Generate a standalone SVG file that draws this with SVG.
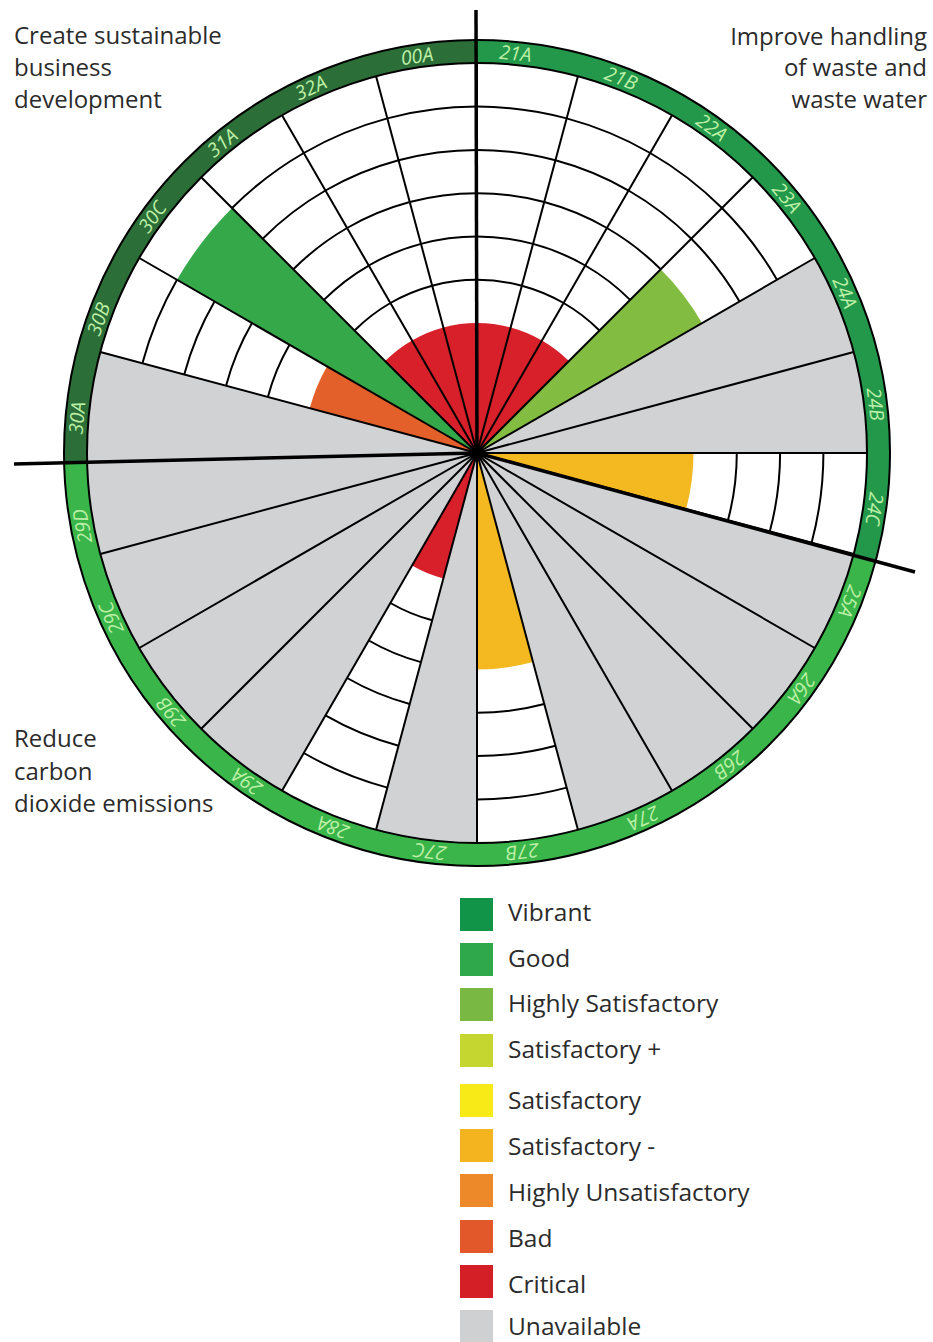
<svg xmlns="http://www.w3.org/2000/svg" xmlns:xlink="http://www.w3.org/1999/xlink" width="933" height="1342" viewBox="0 0 933 1342">
<style>
.red{fill:#d7202a}.good{fill:#35a94a}.hs{fill:#82bc40}.bad{fill:#e4602a}.satm{fill:#f4b821}.gray{fill:#d1d2d4}
.grid{fill:none;stroke:#000;stroke-width:2}
.ray{stroke:#000;stroke-width:2}
.edge{fill:none;stroke:#000;stroke-width:2}
.lab{font-family:"Open Sans","Liberation Sans",sans-serif;font-style:italic;font-size:19.5px;fill:#bdf0a6;text-anchor:middle}
.title{font-family:"Open Sans","Liberation Sans",sans-serif;font-size:24px;fill:#2b2b2b}
.leg{font-family:"Open Sans","Liberation Sans",sans-serif;font-size:24.5px;fill:#2b2b2b}
.sep{stroke:#000;stroke-width:3.5;fill:none}
</style>
<defs>
<path id="w130" d="M0,0 L0,-130 A130,130 0 0 1 33.65,-125.57 Z"/>
<path id="w173" d="M0,0 L0,-173.2 A173.2,173.2 0 0 1 44.83,-167.30 Z"/>
<path id="w216" d="M0,0 L0,-216.5 A216.5,216.5 0 0 1 56.03,-209.12 Z"/>
<path id="w260" d="M0,0 L0,-259.8 A259.8,259.8 0 0 1 67.24,-250.95 Z"/>
<path id="w346" d="M0,0 L0,-346.4 A346.4,346.4 0 0 1 89.66,-334.60 Z"/>
<path id="w390" d="M0,0 L0,-390 A390,390 0 0 1 100.94,-376.71 Z"/>
<path id="a173" class="grid" d="M0,-173.2 A173.2,173.2 0 0 1 44.83,-167.30"/>
<path id="a216" class="grid" d="M0,-216.5 A216.5,216.5 0 0 1 56.03,-209.12"/>
<path id="a260" class="grid" d="M0,-259.8 A259.8,259.8 0 0 1 67.24,-250.95"/>
<path id="a303" class="grid" d="M0,-303.1 A303.1,303.1 0 0 1 78.45,-292.77"/>
<path id="a346" class="grid" d="M0,-346.4 A346.4,346.4 0 0 1 89.66,-334.60"/>
<g id="arcs7"><use xlink:href="#a303"/><use xlink:href="#a346"/></g>
<g id="arcs6"><use xlink:href="#a260"/><use xlink:href="#arcs7"/></g>
<g id="arcs5"><use xlink:href="#a216"/><use xlink:href="#arcs6"/></g>
<g id="arcs4"><use xlink:href="#a173"/><use xlink:href="#arcs5"/></g>
<line id="ray" class="ray" x1="0" y1="0" x2="0" y2="-390"/>
</defs>
<rect x="0" y="0" width="933" height="1342" fill="#fff"/>

<g id="chart" transform="translate(477,453)">
  <g id="s-21A" transform="rotate(0)"><use xlink:href="#w130" class="red"/><use xlink:href="#arcs4"/></g>
  <g id="s-21B" transform="rotate(15)"><use xlink:href="#w130" class="red"/><use xlink:href="#arcs4"/></g>
  <g id="s-22A" transform="rotate(30)"><use xlink:href="#w130" class="red"/><use xlink:href="#arcs4"/></g>
  <g id="s-23A" transform="rotate(45)"><use xlink:href="#w260" class="hs"/><use xlink:href="#arcs7"/></g>
  <g id="s-24A" transform="rotate(60)"><use xlink:href="#w390" class="gray"/></g>
  <g id="s-24B" transform="rotate(75)"><use xlink:href="#w390" class="gray"/></g>
  <g id="s-24C" transform="rotate(90)"><use xlink:href="#w216" class="satm"/><use xlink:href="#arcs6"/></g>
  <g id="s-25A" transform="rotate(105)"><use xlink:href="#w390" class="gray"/></g>
  <g id="s-26A" transform="rotate(120)"><use xlink:href="#w390" class="gray"/></g>
  <g id="s-26B" transform="rotate(135)"><use xlink:href="#w390" class="gray"/></g>
  <g id="s-27A" transform="rotate(150)"><use xlink:href="#w390" class="gray"/></g>
  <g id="s-27B" transform="rotate(165)"><use xlink:href="#w216" class="satm"/><use xlink:href="#arcs6"/></g>
  <g id="s-27C" transform="rotate(180)"><use xlink:href="#w390" class="gray"/></g>
  <g id="s-28A" transform="rotate(195)"><use xlink:href="#w130" class="red"/><use xlink:href="#arcs4"/></g>
  <g id="s-29A" transform="rotate(210)"><use xlink:href="#w390" class="gray"/></g>
  <g id="s-29B" transform="rotate(225)"><use xlink:href="#w390" class="gray"/></g>
  <g id="s-29C" transform="rotate(240)"><use xlink:href="#w390" class="gray"/></g>
  <g id="s-29D" transform="rotate(255)"><use xlink:href="#w390" class="gray"/></g>
  <g id="s-30A" transform="rotate(270)"><use xlink:href="#w390" class="gray"/></g>
  <g id="s-30B" transform="rotate(285)"><use xlink:href="#w173" class="bad"/><use xlink:href="#arcs5"/></g>
  <g id="s-30C" transform="rotate(300)"><use xlink:href="#w346" class="good"/></g>
  <g id="s-31A" transform="rotate(315)"><use xlink:href="#w130" class="red"/><use xlink:href="#arcs4"/></g>
  <g id="s-32A" transform="rotate(330)"><use xlink:href="#w130" class="red"/><use xlink:href="#arcs4"/></g>
  <g id="s-00A" transform="rotate(345)"><use xlink:href="#w130" class="red"/><use xlink:href="#arcs4"/></g>

  <g id="radials">
    <use xlink:href="#ray" transform="rotate(0)"/><use xlink:href="#ray" transform="rotate(15)"/>
    <use xlink:href="#ray" transform="rotate(30)"/><use xlink:href="#ray" transform="rotate(45)"/>
    <use xlink:href="#ray" transform="rotate(60)"/><use xlink:href="#ray" transform="rotate(75)"/>
    <use xlink:href="#ray" transform="rotate(90)"/><use xlink:href="#ray" transform="rotate(105)"/>
    <use xlink:href="#ray" transform="rotate(120)"/><use xlink:href="#ray" transform="rotate(135)"/>
    <use xlink:href="#ray" transform="rotate(150)"/><use xlink:href="#ray" transform="rotate(165)"/>
    <use xlink:href="#ray" transform="rotate(180)"/><use xlink:href="#ray" transform="rotate(195)"/>
    <use xlink:href="#ray" transform="rotate(210)"/><use xlink:href="#ray" transform="rotate(225)"/>
    <use xlink:href="#ray" transform="rotate(240)"/><use xlink:href="#ray" transform="rotate(255)"/>
    <use xlink:href="#ray" transform="rotate(285)"/>
    <use xlink:href="#ray" transform="rotate(300)"/><use xlink:href="#ray" transform="rotate(315)"/>
    <use xlink:href="#ray" transform="rotate(330)"/><use xlink:href="#ray" transform="rotate(345)"/>
  </g>

  <g id="ring">
    <path id="ring-waste" fill="#23984a" d="M0,-413 A413,413 0 0 1 398.93,106.89 L376.71,100.94 A390,390 0 0 0 0,-390 Z"/>
    <path id="ring-carbon" fill="#3ab54a" d="M398.93,106.89 A413,413 0 0 1 -412.88,9.80 L-389.89,9.25 A390,390 0 0 0 376.71,100.94 Z"/>
    <path id="ring-business" fill="#2c6e37" d="M-412.88,9.80 A413,413 0 0 1 0,-413 L0,-390 A390,390 0 0 0 -389.89,9.25 Z"/>
    <circle class="edge" r="390"/>
    <circle class="edge" r="413"/>
  </g>

  <g id="ring-labels">
    <text class="lab" transform="rotate(5.5)" y="-394.5">21A</text>
    <text class="lab" transform="rotate(21)" y="-394.5">21B</text>
    <text class="lab" transform="rotate(35.8)" y="-394.5">22A</text>
    <text class="lab" transform="rotate(50.5)" y="-394.5">23A</text>
    <text class="lab" transform="rotate(66.4)" y="-394.5">24A</text>
    <text class="lab" transform="rotate(83)" y="-394.5">24B</text>
    <text class="lab" transform="rotate(98)" y="-394.5">24C</text>
    <text class="lab" transform="rotate(111.7)" y="-394.5">25A</text>
    <text class="lab" transform="rotate(126)" y="-394.5">26A</text>
    <text class="lab" transform="rotate(141)" y="-394.5">26B</text>
    <text class="lab" transform="rotate(155.5)" y="-394.5">27A</text>
    <text class="lab" transform="rotate(173.5)" y="-394.5">27B</text>
    <text class="lab" transform="rotate(186.7)" y="-394.5">27C</text>
    <text class="lab" transform="rotate(201)" y="-394.5">28A</text>
    <text class="lab" transform="rotate(215)" y="-394.5">29A</text>
    <text class="lab" transform="rotate(229.7)" y="-394.5">29B</text>
    <text class="lab" transform="rotate(245.7)" y="-394.5">29C</text>
    <text class="lab" transform="rotate(259.5)" y="-394.5">29D</text>
    <text class="lab" transform="rotate(275)" y="-394.5">30A</text>
    <text class="lab" transform="rotate(289.5)" y="-394.5">30B</text>
    <text class="lab" transform="rotate(306)" y="-394.5">30C</text>
    <text class="lab" transform="rotate(320.6)" y="-394.5">31A</text>
    <text class="lab" transform="rotate(335.5)" y="-394.5">32A</text>
    <text class="lab" transform="rotate(351.4)" y="-394.5">00A</text>
  </g>
</g>

<g id="connectors">
  <line class="sep" x1="476" y1="10" x2="477" y2="453"/>
  <line class="sep" x1="14" y1="464" x2="477" y2="453"/>
  <line class="sep" x1="477" y1="453" x2="915" y2="572"/>
  <circle cx="477" cy="453" r="7" fill="#000"/>
</g>

<g id="title-business">
  <text class="title" x="14" y="44">Create sustainable</text>
  <text class="title" x="14" y="76">business</text>
  <text class="title" x="14" y="108">development</text>
</g>
<g id="title-waste" text-anchor="end">
  <text class="title" x="927" y="45">Improve handling</text>
  <text class="title" x="927" y="76">of waste and</text>
  <text class="title" x="927" y="108">waste water</text>
</g>
<g id="title-carbon">
  <text class="title" x="14" y="747">Reduce</text>
  <text class="title" x="14" y="780">carbon</text>
  <text class="title" x="14" y="812">dioxide emissions</text>
</g>

<g id="legend">
  <g id="leg-vibrant"><rect x="460" y="898" width="33" height="33" fill="#119447"/><text class="leg" x="508" y="921">Vibrant</text></g>
  <g id="leg-good"><rect x="460" y="943" width="33" height="33" fill="#2ea84a"/><text class="leg" x="508" y="967">Good</text></g>
  <g id="leg-hs"><rect x="460" y="988" width="33" height="33" fill="#79b943"/><text class="leg" x="508" y="1012">Highly Satisfactory</text></g>
  <g id="leg-sp"><rect x="460" y="1034" width="33" height="33" fill="#c6d631"/><text class="leg" x="508" y="1058">Satisfactory +</text></g>
  <g id="leg-s"><rect x="460" y="1084" width="33" height="33" fill="#f7ea17"/><text class="leg" x="508" y="1109">Satisfactory</text></g>
  <g id="leg-sm"><rect x="460" y="1129" width="33" height="33" fill="#f4b41f"/><text class="leg" x="508" y="1155">Satisfactory -</text></g>
  <g id="leg-hu"><rect x="460" y="1174" width="33" height="33" fill="#ee892a"/><text class="leg" x="508" y="1201">Highly Unsatisfactory</text></g>
  <g id="leg-bad"><rect x="460" y="1220" width="33" height="33" fill="#e2582a"/><text class="leg" x="508" y="1247">Bad</text></g>
  <g id="leg-critical"><rect x="460" y="1265" width="33" height="33" fill="#d51f27"/><text class="leg" x="508" y="1293">Critical</text></g>
  <g id="leg-unavailable"><rect x="460" y="1310" width="33" height="33" fill="#cfd0d2"/><text class="leg" x="508" y="1335">Unavailable</text></g>
</g>
</svg>
